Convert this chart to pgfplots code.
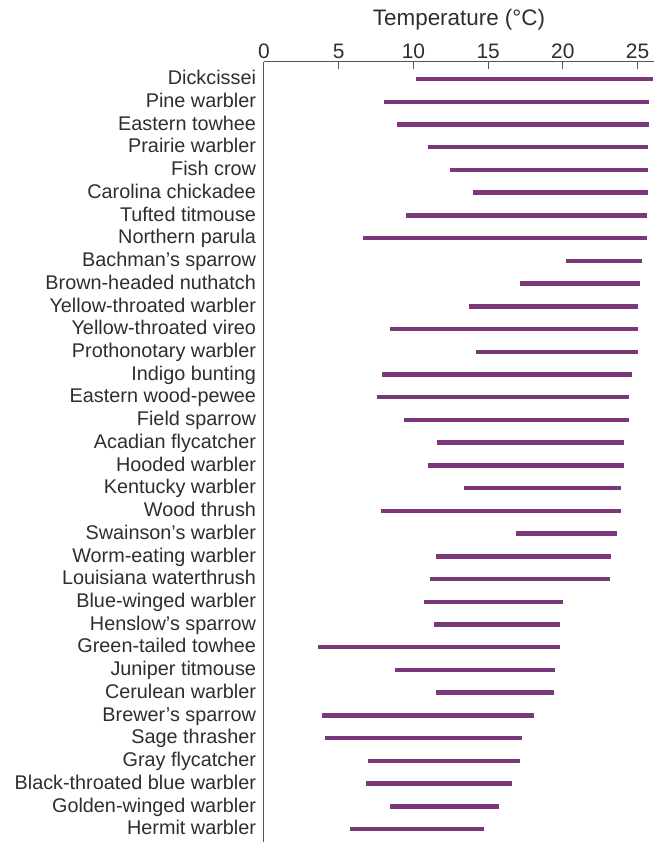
\documentclass[border=0pt]{standalone}
\usepackage{fontspec}
\setmainfont{Liberation Sans}
\usepackage{pgfplots}
\pgfplotsset{compat=1.18}
\usepackage{pgfplotstable}

\definecolor{barpurple}{HTML}{7A3779}
\definecolor{txtgray}{HTML}{2E2E2E}
\definecolor{axgray}{HTML}{555555}

% lower and upper temperature of each species, one segment per row pair
\pgfplotstableread[row sep=\\]{
t y\\
10.2 33\\ 26.0 33\\ nan nan\\
8.0 32\\ 25.75 32\\ nan nan\\
8.9 31\\ 25.75 31\\ nan nan\\
11.0 30\\ 25.7 30\\ nan nan\\
12.45 29\\ 25.7 29\\ nan nan\\
14.0 28\\ 25.7 28\\ nan nan\\
9.5 27\\ 25.6 27\\ nan nan\\
6.65 26\\ 25.6 26\\ nan nan\\
20.2 25\\ 25.3 25\\ nan nan\\
17.15 24\\ 25.15 24\\ nan nan\\
13.7 23\\ 25.0 23\\ nan nan\\
8.45 22\\ 25.0 22\\ nan nan\\
14.2 21\\ 25.0 21\\ nan nan\\
7.9 20\\ 24.65 20\\ nan nan\\
7.55 19\\ 24.4 19\\ nan nan\\
9.35 18\\ 24.4 18\\ nan nan\\
11.55 17\\ 24.1 17\\ nan nan\\
11.0 16\\ 24.1 16\\ nan nan\\
13.4 15\\ 23.9 15\\ nan nan\\
7.8 14\\ 23.9 14\\ nan nan\\
16.85 13\\ 23.6 13\\ nan nan\\
11.5 12\\ 23.25 12\\ nan nan\\
11.1 11\\ 23.15 11\\ nan nan\\
10.7 10\\ 20.0 10\\ nan nan\\
11.35 9\\ 19.8 9\\ nan nan\\
3.6 8\\ 19.8 8\\ nan nan\\
8.8 7\\ 19.5 7\\ nan nan\\
11.5 6\\ 19.4 6\\ nan nan\\
3.9 5\\ 18.1 5\\ nan nan\\
4.05 4\\ 17.25 4\\ nan nan\\
6.95 3\\ 17.1 3\\ nan nan\\
6.8 2\\ 16.6 2\\ nan nan\\
8.45 1\\ 15.75 1\\ nan nan\\
5.75 0\\ 14.75 0\\
}\ranges

\begin{document}
\begin{tikzpicture}
\begin{axis}[
    at={(0,0)}, anchor=north west,
    scale only axis,
    width=390bp, height=780bp,
    xmin=0, xmax=26.1,
    ymin=-0.57, ymax=33.75,
    axis x line=top,
    axis y line=left,
    axis line style={-, draw=axgray, line width=1bp},
    xtick={0,5,10,15,20,25},
    tick align=inside,
    major tick length=7bp,
    x tick style={draw=axgray, line width=1bp},
    ytick={0,...,33},
    y tick style={draw=none},
    yticklabels={Hermit warbler, Golden-winged warbler, Black-throated blue warbler,
        Gray flycatcher, Sage thrasher, Brewer’s sparrow, Cerulean warbler,
        Juniper titmouse, Green-tailed towhee, Henslow’s sparrow, Blue-winged warbler,
        Louisiana waterthrush, Worm-eating warbler, Swainson’s warbler, Wood thrush,
        Kentucky warbler, Hooded warbler, Acadian flycatcher, Field sparrow,
        Eastern wood-pewee, Indigo bunting, Prothonotary warbler, Yellow-throated vireo,
        Yellow-throated warbler, Brown-headed nuthatch, Bachman’s sparrow,
        Northern parula, Tufted titmouse, Carolina chickadee, Fish crow,
        Prairie warbler, Eastern towhee, Pine warbler, Dickcissei},
    yticklabel style={font=\fontsize{19.9}{20}\selectfont, text=txtgray,
        anchor=east, text height=14bp, text depth=2.6bp, xshift=-4.5bp},
    xticklabel style={font=\fontsize{21}{22}\selectfont, text=txtgray},
    /pgf/number format/assume math mode=true,
    xlabel={Temperature (°C)},
    xlabel style={font=\fontsize{22.5}{23}\selectfont, text=txtgray, yshift=7bp},
    unbounded coords=jump,
    clip=false,
]
\addplot[barpurple, line width=4.5bp, line cap=butt, mark=none] table[x=t, y=y] {\ranges};
\end{axis}
\pgfresetboundingbox
\path[use as bounding box] (-264bp,62bp) rectangle (390bp,-780bp);
\end{tikzpicture}
\end{document}
